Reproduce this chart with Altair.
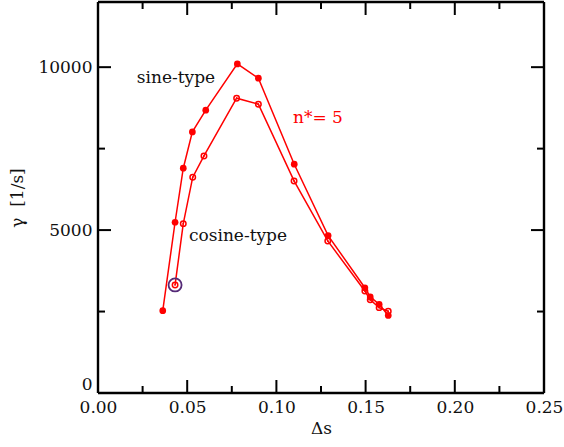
import altair as alt
import pandas as pd

# ---- data ----
ds_sine = [0.0363, 0.0432, 0.0478, 0.0529, 0.0604, 0.0781, 0.0899, 0.1100, 0.1290, 0.1496, 0.1526, 0.1576, 0.1627]
g_sine = [2527, 5241, 6899, 8013, 8680, 10101, 9662, 7022, 4830, 3230, 2950, 2720, 2380]
ds_cos = [0.0432, 0.0478, 0.0531, 0.0594, 0.0777, 0.0899, 0.1099, 0.1288, 0.1496, 0.1526, 0.1576, 0.1627]
g_cos = [3316, 5198, 6623, 7277, 9048, 8864, 6509, 4667, 3130, 2860, 2620, 2510]

highlight_ds = [0.0432]
highlight_g = [3316]

x_major = [0.0, 0.05, 0.10, 0.15, 0.20, 0.25]
x_minor = [0.025, 0.075, 0.125, 0.175, 0.225]
y_major = [0, 5000, 10000]
y_minor = [2500, 7500]

ann_text = ["sine-type", "cosine-type", "n*= 5"]
ann_x = [0.0437, 0.0510, 0.1093]
ann_y = [9671, 4820, 8443]

W, H = 446, 391
FONT = "DejaVu Serif"
FS = 17
RED = "#ff0000"

xs = alt.Scale(domain=[0, 0.25], nice=False, zero=False)
ys = alt.Scale(domain=[0, 12000], nice=False, zero=False)

sine = pd.DataFrame({"ds": ds_sine, "g": g_sine})
cos = pd.DataFrame({"ds": ds_cos, "g": g_cos})

base_x = alt.X("ds:Q", scale=xs, title="Δs",
               axis=alt.Axis(values=x_major, format=".2f", ticks=False, domain=False, grid=False,
                             labelFlush=False, labelOverlap=False,
                             labelFont=FONT, labelFontSize=FS, labelColor="#111",
                             labelPadding=6, titleFont=FONT, titleFontSize=FS,
                             titleFontWeight="normal", titleColor="#111", titlePadding=5))
base_y = alt.Y("g:Q", scale=ys, title="γ\u00a0\u00a0[1/s]",
               axis=alt.Axis(values=y_major, format="d", ticks=False, domain=False, grid=False,
                             labelFlush=True, labelOverlap=False,
                             labelFont=FONT, labelFontSize=FS, labelColor="#111",
                             labelPadding=6, titleFont=FONT, titleFontSize=FS,
                             titleFontWeight="normal", titleColor="#111", titlePadding=11))

sine_line = alt.Chart(sine).mark_line(color=RED, strokeWidth=1.5).encode(x=base_x, y=base_y)
sine_pts = alt.Chart(sine).mark_point(filled=True, color=RED, size=45, opacity=1).encode(
    x=alt.X("ds:Q", scale=xs), y=alt.Y("g:Q", scale=ys))
cos_line = alt.Chart(cos).mark_line(color=RED, strokeWidth=1.5).encode(
    x=alt.X("ds:Q", scale=xs), y=alt.Y("g:Q", scale=ys))
cos_pts = alt.Chart(cos).mark_point(filled=False, color=RED, size=30, strokeWidth=1.5, opacity=1).encode(
    x=alt.X("ds:Q", scale=xs), y=alt.Y("g:Q", scale=ys))
cos_dot = alt.Chart(cos).mark_point(filled=True, color=RED, size=3, opacity=1).encode(
    x=alt.X("ds:Q", scale=xs), y=alt.Y("g:Q", scale=ys))

hl = pd.DataFrame({"ds": highlight_ds, "g": highlight_g})
hl_pt = alt.Chart(hl).mark_point(filled=False, color="#552a77", size=170, strokeWidth=1.8, opacity=1).encode(
    x=alt.X("ds:Q", scale=xs), y=alt.Y("g:Q", scale=ys))

ann = pd.DataFrame({"t": ann_text, "ds": ann_x, "g": ann_y,
                    "c": ["#111", "#111", RED], "a": ["center", "left", "left"]})
ann_layers = []
for i in range(len(ann_text)):
    d = ann.iloc[[i]]
    ann_layers.append(
        alt.Chart(d).mark_text(font=FONT, fontSize=FS, align=d["a"].iloc[0], baseline="middle",
                               color=d["c"].iloc[0]).encode(
            x=alt.X("ds:Q", scale=xs), y=alt.Y("g:Q", scale=ys), text="t:N"))


def xticks(vals, length):
    df = pd.DataFrame({"ds": vals})
    bot = alt.Chart(df).mark_rule(color="black", strokeWidth=2).encode(
        x=alt.X("ds:Q", scale=xs), y=alt.value(H), y2=alt.value(H - length))
    top = alt.Chart(df).mark_rule(color="black", strokeWidth=2).encode(
        x=alt.X("ds:Q", scale=xs), y=alt.value(0), y2=alt.value(length))
    return [bot, top]


def yticks(vals, length):
    df = pd.DataFrame({"g": vals})
    left = alt.Chart(df).mark_rule(color="black", strokeWidth=2).encode(
        y=alt.Y("g:Q", scale=ys), x=alt.value(0), x2=alt.value(length))
    right = alt.Chart(df).mark_rule(color="black", strokeWidth=2).encode(
        y=alt.Y("g:Q", scale=ys), x=alt.value(W), x2=alt.value(W - length))
    return [left, right]


tick_layers = xticks(x_major, 13) + xticks(x_minor, 7) + yticks(y_major, 13) + yticks(y_minor, 7)

frame_src = pd.DataFrame({"k": [0]})
frame = [
    alt.Chart(frame_src).mark_rule(color="black", strokeWidth=2.4).encode(
        x=alt.value(0), y=alt.value(0), y2=alt.value(H)),
    alt.Chart(frame_src).mark_rule(color="black", strokeWidth=2.4).encode(
        x=alt.value(W), y=alt.value(0), y2=alt.value(H)),
    alt.Chart(frame_src).mark_rule(color="black", strokeWidth=2.4).encode(
        y=alt.value(0), x=alt.value(0), x2=alt.value(W)),
    alt.Chart(frame_src).mark_rule(color="black", strokeWidth=2.4).encode(
        y=alt.value(H), x=alt.value(0), x2=alt.value(W)),
]

chart = alt.layer(
    sine_line, cos_line, sine_pts, cos_pts, cos_dot, hl_pt, *ann_layers, *tick_layers, *frame
).properties(
    width=W, height=H,
    padding={"left": 98, "top": 2, "right": 20, "bottom": 54},
    autosize=alt.AutoSizeParams(type="none"),
).configure_view(
    stroke=None
).configure(background="white")

chart.save("out.html", embed_options={"renderer": "svg", "actions": False})
